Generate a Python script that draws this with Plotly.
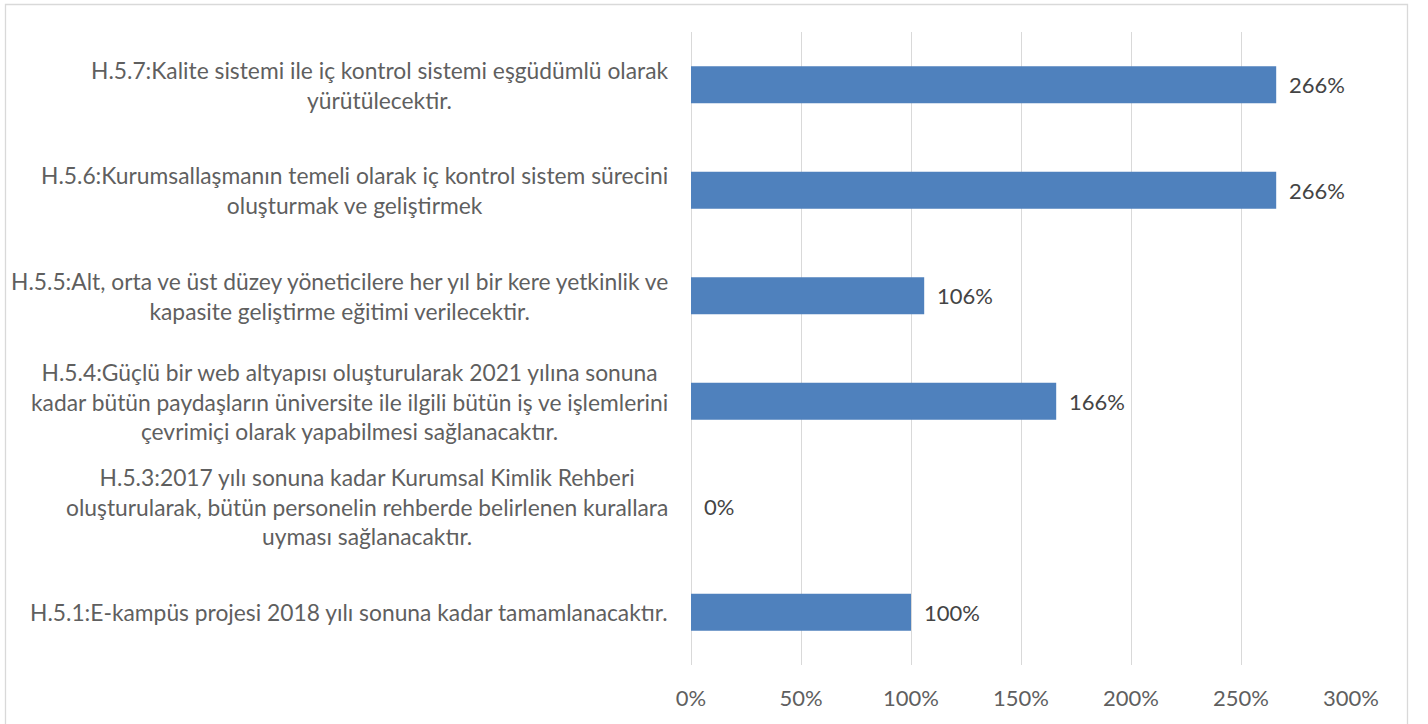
import plotly.graph_objects as go

categories = [
    "H.5.1:E-kampüs projesi 2018 yılı sonuna kadar tamamlanacaktır.",
    "H.5.3:2017 yılı sonuna kadar Kurumsal Kimlik Rehberi<br>oluşturularak, bütün personelin rehberde belirlenen kurallara<br>uyması sağlanacaktır.",
    "H.5.4:Güçlü bir web altyapısı oluşturularak 2021 yılına sonuna<br>kadar bütün paydaşların üniversite ile ilgili bütün iş ve işlemlerini<br>çevrimiçi olarak yapabilmesi sağlanacaktır.",
    "H.5.5:Alt, orta ve üst düzey yöneticilere her yıl bir kere yetkinlik ve<br>kapasite geliştirme eğitimi verilecektir.",
    "H.5.6:Kurumsallaşmanın temeli olarak iç kontrol sistem sürecini<br>oluşturmak ve geliştirmek",
    "H.5.7:Kalite sistemi ile iç kontrol sistemi eşgüdümlü olarak<br>yürütülecektir.",
]
values = [100, 0, 166, 106, 266, 266]
tick_vals = [0, 50, 100, 150, 200, 250, 300]
tick_text = ["0%", "50%", "100%", "150%", "200%", "250%", "300%"]

FONT = "Lato"
W, H = 1428, 724
L, R, T, B = 691, 77, 32, 59
pw, ph = W - L - R, H - T - B

fig = go.Figure()
fig.add_trace(go.Bar(
    y=list(range(len(categories))), x=values, orientation="h",
    marker=dict(color="#4f81bd", line=dict(width=0)), width=0.35,
    hoverinfo="x",
))

annotations = []
for i, (c, v) in enumerate(zip(categories, values)):
    annotations.append(dict(
        x=0, xref="paper", y=i, yref="y", text=c, showarrow=False,
        xanchor="right", yanchor="middle", align="center", xshift=-21,
        font=dict(family=FONT, size=22.8, color="#5f5f5f"),
    ))
    annotations.append(dict(
        x=v, xref="x", y=i, yref="y", text=f"{v}%", showarrow=False,
        xanchor="left", yanchor="middle", xshift=11,
        font=dict(family=FONT, size=22, color="#444444"),
    ))

def px_x(p):
    return (p - L) / pw

def px_y(p):
    return 1 - (p - T) / ph

fig.update_layout(
    width=W, height=H,
    margin=dict(l=L, r=R, t=T, b=B),
    paper_bgcolor="white", plot_bgcolor="white",
    showlegend=False,
    bargap=0.65,
    annotations=annotations,
    xaxis=dict(
        range=[0, 300], tickvals=tick_vals, ticktext=tick_text,
        showgrid=True, gridcolor="#d9d9d9", gridwidth=1.3,
        zeroline=True, zerolinecolor="#d9d9d9", zerolinewidth=1.3,
        showline=False, ticks="outside", ticklen=14, tickcolor="rgba(0,0,0,0)",
        tickfont=dict(family=FONT, size=22, color="#5f5f5f"),
        fixedrange=True,
    ),
    yaxis=dict(
        range=[-0.5, len(categories) - 0.5], showticklabels=False,
        showgrid=False, zeroline=False, showline=False, fixedrange=True,
    ),
    shapes=[dict(
        type="rect", xref="paper", yref="paper",
        x0=px_x(5.5), x1=px_x(1407.5), y0=px_y(730), y1=px_y(4.5),
        line=dict(color="#d9d9d9", width=1.3), fillcolor="rgba(0,0,0,0)",
        layer="below",
    )],
)

fig.write_html(
    "out.html",
    config={"displayModeBar": False},
    post_script="document.body.style.margin='0';document.body.style.overflow='hidden';",
)
